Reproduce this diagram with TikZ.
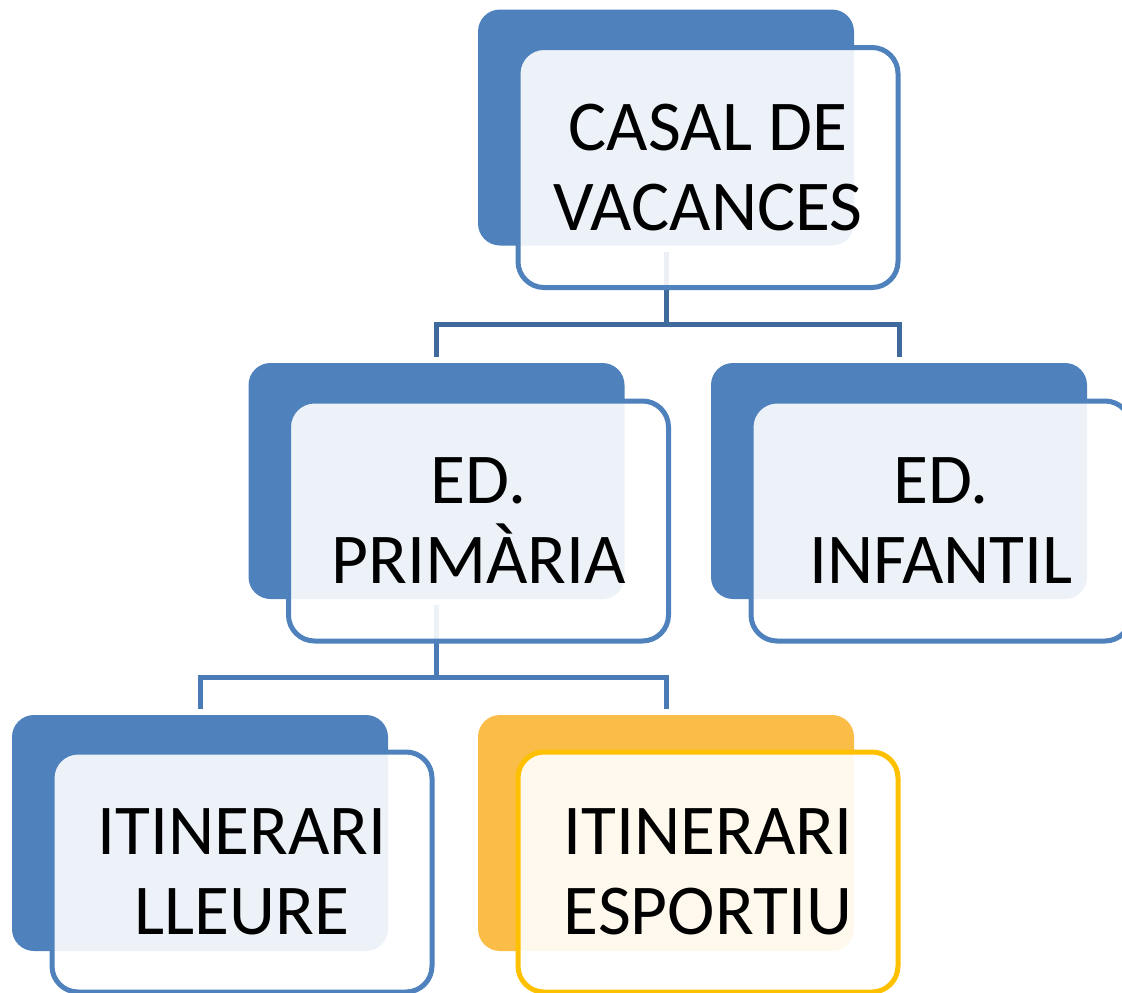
\documentclass[tikz,border=0pt]{standalone}
\usepackage{fontspec}
\setmainfont{Carlito}
\definecolor{backblue}{HTML}{4F81BD}
\definecolor{backorange}{HTML}{F9BD48}
\definecolor{frontyellow}{HTML}{FFC000}
\definecolor{conntop}{HTML}{3F6A9C}
\definecolor{connbot}{HTML}{4A7BB6}
\tikzset{
  backbox/.style={rectangle, rounded corners=22pt, minimum width=376pt, minimum height=236pt, inner sep=0pt, fill=#1, draw=none},
  frontbox/.style={rectangle, rounded corners=26pt, minimum width=380pt, minimum height=240pt, inner sep=0pt, fill=white, fill opacity=0.9, draw opacity=1, draw=#1, line width=5pt},
  label/.style={align=center, font=\fontsize{71.5}{80}\selectfont, text=black, inner sep=0pt},
  conn/.style={draw=#1, line width=5pt}
}
\begin{document}
\begin{tikzpicture}[x=1pt,y=-1pt]
\useasboundingbox (0,0) rectangle (1122,993);
% back boxes
\node[backbox=backblue] (Ab) at (666,127.5) {};
\node[backbox=backblue] (Bb) at (436.5,481) {};
\node[backbox=backblue] (Cb) at (899,481) {};
\node[backbox=backblue] (Db) at (200,833) {};
\node[backbox=backorange] (Eb) at (666,833) {};
% connectors
\coordinate (Aj) at (666,324);
\coordinate (Bj) at (436.5,677);
\draw[conn=conntop] ([yshift=-6pt]Ab.south) -- (Aj);
\draw[conn=conntop] (Aj) -| ([yshift=6pt]Bb.north);
\draw[conn=conntop] (Aj) -| ([yshift=6pt]Cb.north);
\draw[conn=connbot] ([yshift=-6pt]Bb.south) -- (Bj);
\draw[conn=connbot] (Bj) -| ([yshift=6pt]Db.north);
\draw[conn=connbot] (Bj) -| ([yshift=6pt]Eb.north);
% front boxes
\node[frontbox=backblue] (Af) at (708,167.5) {};
\node[frontbox=backblue] (Bf) at (478.5,521) {};
\node[frontbox=backblue] (Cf) at (941,521) {};
\node[frontbox=backblue] (Df) at (242,872) {};
\node[frontbox=frontyellow] (Ef) at (708,872) {};
% labels
\node[label] (At) at (Af) {CASAL DE\\VACANCES};
\node[label] (Bt) at (Bf) {ED.\\PRIMÀRIA};
\node[label] (Ct) at (Cf) {ED.\\INFANTIL};
\node[label] (Dt) at (Df) {ITINERARI\\LLEURE};
\node[label] (Et) at (Ef) {ITINERARI\\ESPORTIU};
\end{tikzpicture}
\end{document}
